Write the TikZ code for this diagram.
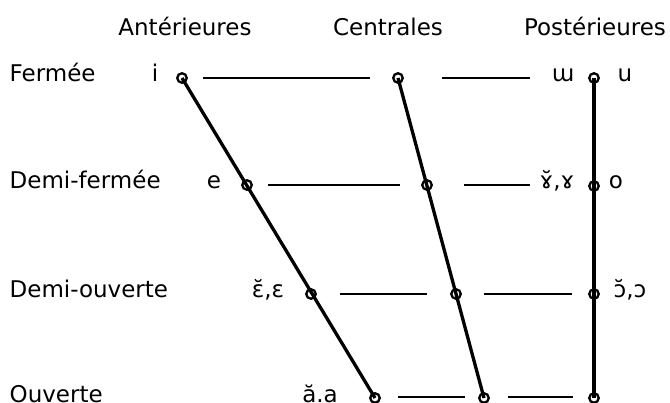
\documentclass[tikz,border=0pt]{standalone}
\usepackage{fontspec}
\setmainfont{DejaVu Sans}
\begin{document}
\begin{tikzpicture}[x=1pt,y=-1pt,
  txt/.style={font=\fontsize{23}{27}\selectfont, inner sep=0pt, anchor=base},
  rowlab/.style={txt, anchor=base west},
  vow/.style={circle, draw, line width=2.3pt, inner sep=0pt, minimum size=9.5pt},
  axis/.style={line width=3.3pt},
  rung/.style={line width=1.7pt}]
\useasboundingbox (0,0) rectangle (670,403);
% headers
\node[txt] (hA) at (185,36) {Antérieures};
\node[txt] (hC) at (388,36) {Centrales};
\node[txt] (hP) at (595,36) {Postérieures};
% row labels
\node[rowlab] (r1) at (9.5,82) {Fermée};
\node[rowlab] (r2) at (9.5,189) {Demi-fermée};
\node[rowlab] (r3) at (9.5,298) {Demi-ouverte};
\node[rowlab] (r4) at (9.5,403) {Ouverte};
% vowel points
\node[vow] (f1) at (182,78) {};
\node[vow] (f2) at (247,185) {};
\node[vow] (f3) at (311,294) {};
\node[vow] (f4) at (375,398) {};
\node[vow] (c1) at (398,78) {};
\node[vow] (c2) at (427,185) {};
\node[vow] (c3) at (456,294) {};
\node[vow] (c4) at (484,398) {};
\node[vow] (b1) at (594,78) {};
\node[vow] (b2) at (594,186) {};
\node[vow] (b3) at (594,294) {};
\node[vow] (b4) at (594,398) {};
% axes
\draw[axis] (f1.center) -- (f4.center);
\draw[axis] (c1.center) -- (c4.center);
\draw[axis] (b1.center) -- (b4.center);
% rung ends
\coordinate (a1) at (203,78);  \coordinate (a2) at (370,78);
\coordinate (a3) at (442,78);  \coordinate (a4) at (530,78);
\coordinate (d1) at (268,185); \coordinate (d2) at (400,185);
\coordinate (d3) at (464,185); \coordinate (d4) at (530,185);
\coordinate (g1) at (340,294); \coordinate (g2) at (427,294);
\coordinate (g3) at (484,294); \coordinate (g4) at (572,294);
\coordinate (k1) at (398,397); \coordinate (k2) at (465,397);
\coordinate (k3) at (508,397); \coordinate (k4) at (573,397);
\draw[rung] (a1) -- (a2); \draw[rung] (a3) -- (a4);
\draw[rung] (d1) -- (d2); \draw[rung] (d3) -- (d4);
\draw[rung] (g1) -- (g2); \draw[rung] (g3) -- (g4);
\draw[rung] (k1) -- (k2); \draw[rung] (k3) -- (k4);
% vowel labels
\node[txt] (vi) at (155,82) {i};
\node[txt] (ve) at (214,189) {e};
\node[txt] (veps) at (268,298) {ɛ̆,ɛ};
\node[txt] (va) at (320,403) {ă.a};
\node[txt] (vmw) at (563,82) {ɯ};
\node[txt] (vu) at (625,82) {u};
\node[txt] (vgam) at (557,189) {ɤ̆,ɤ};
\node[txt] (vo) at (616,189) {o};
\node[txt] (vopen) at (630,298) {ɔ̆,ɔ};
\end{tikzpicture}
\end{document}
